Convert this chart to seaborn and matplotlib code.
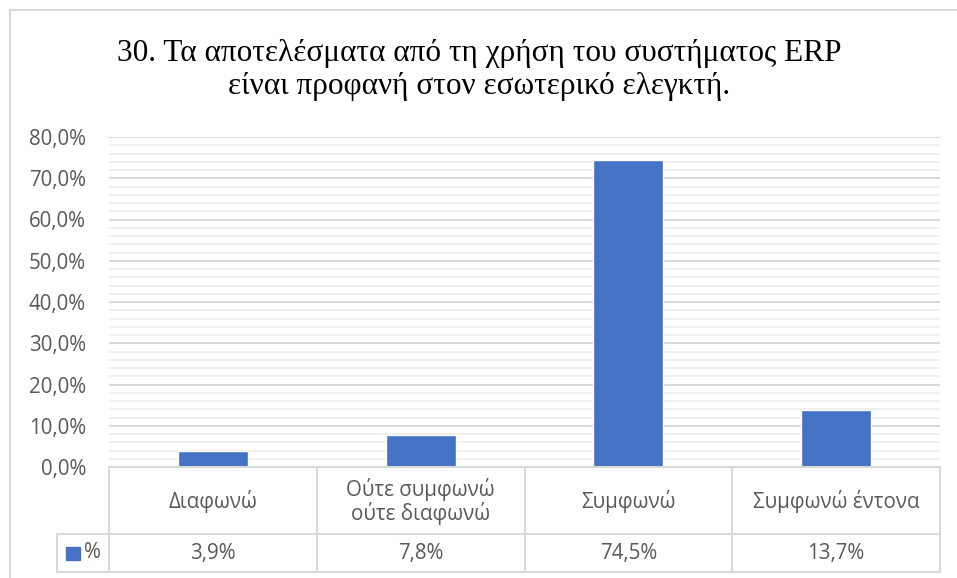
import matplotlib
matplotlib.use("Agg")
import matplotlib.pyplot as plt
import matplotlib.transforms as mtransforms
from matplotlib.lines import Line2D
from matplotlib.patches import Rectangle
import seaborn as sns
import pandas as pd

categories = ["Διαφωνώ", "Ούτε συμφωνώ\nούτε διαφωνώ", "Συμφωνώ", "Συμφωνώ έντονα"]
values = [3.9, 7.8, 74.5, 13.7]
value_labels = ["3,9%", "7,8%", "74,5%", "13,7%"]
yticks = [0, 10, 20, 30, 40, 50, 60, 70, 80]
ytick_labels = ["0,0%", "10,0%", "20,0%", "30,0%", "40,0%", "50,0%", "60,0%", "70,0%", "80,0%"]
series_name = "%"
title = "30. Τα αποτελέσματα από τη χρήση του συστήματος ERP\nείναι προφανή στον εσωτερικό ελεγκτή."

W, H = 957, 578
DPI = 100
BAR = "#4472C4"
GRID = "#D9D9D9"
MINOR = "#EFEFEF"
TXT = "#595959"
LABEL_FONT = ["Open Sans", "DejaVu Sans"]
FS = 14.8

sns.set_theme(style="white")
plt.rcParams["font.family"] = LABEL_FONT

fig = plt.figure(figsize=(W / DPI, H / DPI), dpi=DPI)

def fx(px):
    return px / W

def fy(py):
    return 1 - py / H

# plot area in pixels
L, R, T, B = 109, 940, 137, 467
ax = fig.add_axes([fx(L), fy(B), fx(R) - fx(L), fy(T) - fy(B)])

df = pd.DataFrame({"cat": categories, "val": values})
sns.barplot(data=df, x="cat", y="val", color=BAR, saturation=1, width=0.336, ax=ax, zorder=3)

ax.set_xlim(-0.5, len(categories) - 0.5)
ax.set_ylim(0, 80)
ax.set_yticks(yticks)
ax.set_yticklabels(ytick_labels, color=TXT, fontsize=FS, family=LABEL_FONT)
ax.tick_params(axis="y", length=0, pad=16.5)
ax.set_xticks([])
ax.set_xlabel("")
ax.set_ylabel("")
for s in ax.spines.values():
    s.set_visible(False)

# gridlines
for v in range(2, 81, 2):
    if v % 10 != 0:
        ax.axhline(v, color=MINOR, lw=1.4, zorder=1)
for v in yticks:
    ax.axhline(v, color=GRID, lw=1.4, zorder=2)

# data table
trans = mtransforms.blended_transform_factory(ax.transData, fig.transFigure)
row_top, row_mid, row_bot = 467, 534, 572
line_kw = dict(color=GRID, lw=1.5)
n = len(categories)
for xb in [i - 0.5 for i in range(n + 1)]:
    fig.add_artist(Line2D([xb, xb], [fy(row_top), fy(row_bot)], transform=trans, **line_kw))
fig.add_artist(Line2D([-0.5, n - 0.5], [fy(row_mid), fy(row_mid)], transform=trans, **line_kw))
fig.add_artist(Line2D([-0.5, n - 0.5], [fy(row_top), fy(row_top)], transform=trans, **line_kw))
# legend cell
fig.add_artist(Line2D([fx(57), fx(L)], [fy(row_mid), fy(row_mid)], transform=fig.transFigure, **line_kw))
fig.add_artist(Line2D([fx(57), fx(L)], [fy(row_bot), fy(row_bot)], transform=fig.transFigure, **line_kw))
fig.add_artist(Line2D([fx(57), fx(57)], [fy(row_mid), fy(row_bot)], transform=fig.transFigure, **line_kw))
fig.add_artist(Line2D([-0.5, n - 0.5], [fy(row_bot), fy(row_bot)], transform=trans, **line_kw))

for i, (c, vl) in enumerate(zip(categories, value_labels)):
    fig.text(i, fy((row_top + row_mid) / 2 + 1), c, transform=trans, ha="center", va="center",
             color=TXT, fontsize=FS, family=LABEL_FONT, linespacing=1.05)
    fig.text(i, fy((row_mid + row_bot) / 2), vl, transform=trans, ha="center", va="center",
             color=TXT, fontsize=FS, family=LABEL_FONT)

fig.add_artist(Rectangle((fx(66), fy(560)), fx(80) - fx(66), fy(547) - fy(560),
                         transform=fig.transFigure, color=BAR))
fig.text(fx(84), fy((row_mid + row_bot) / 2), series_name, ha="left", va="center",
         color=TXT, fontsize=FS, family=LABEL_FONT)

# title
fig.text(fx(479), fy(70), title, ha="center", va="center", fontsize=22.5,
         family=["Liberation Serif", "DejaVu Serif"], color="#000000", linespacing=1.2)

# outer chart frame (left and top visible)
fig.add_artist(Line2D([fx(9.5), fx(9.5)], [fy(9.5), 0], transform=fig.transFigure, color=GRID, lw=1.5))
fig.add_artist(Line2D([fx(9.5), 1], [fy(9.5), fy(9.5)], transform=fig.transFigure, color=GRID, lw=1.5))

fig.savefig("out.png", dpi=DPI, facecolor="white")
